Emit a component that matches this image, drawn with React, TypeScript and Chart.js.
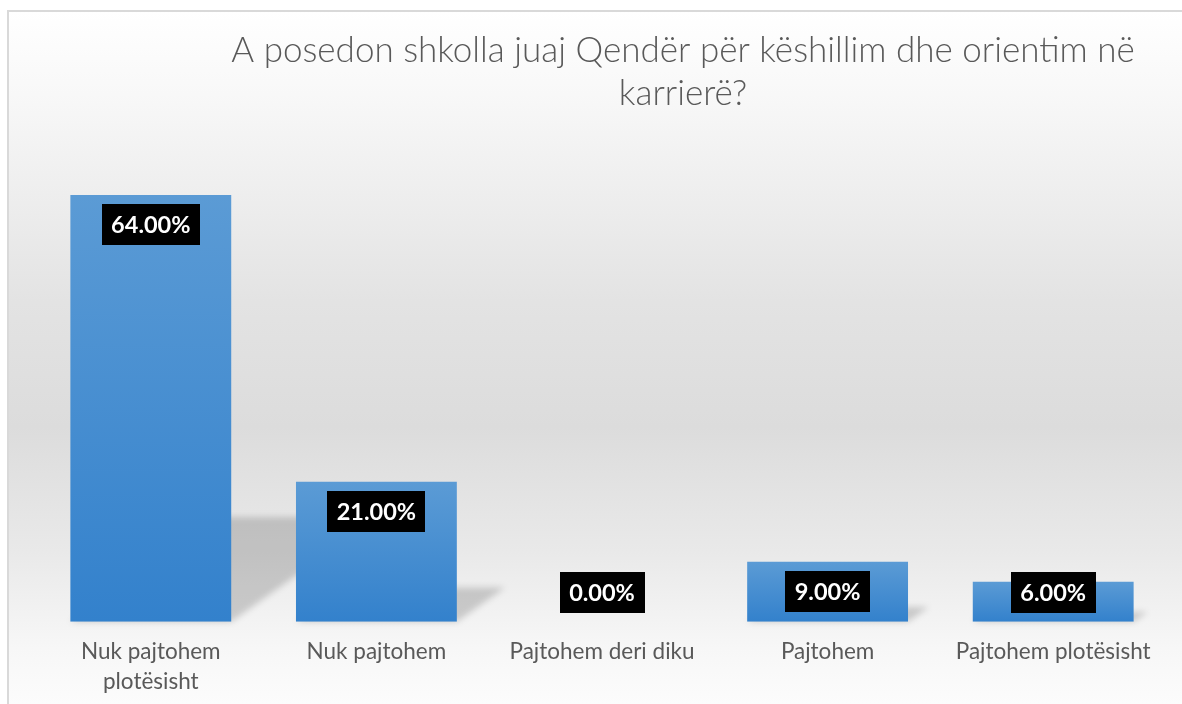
import React, { useEffect, useRef } from "react";
import { Chart, registerables } from "chart.js";

Chart.register(...registerables);

const TITLE_LINES = ["A posedon shkolla juaj Qendër për këshillim dhe orientim në", "karrierë?"];
const CATEGORIES: (string | string[])[] = [
  ["Nuk pajtohem", "plotësisht"],
  "Nuk pajtohem",
  "Pajtohem deri diku",
  "Pajtohem",
  "Pajtohem plotësisht",
];
const VALUES = [64, 21, 0, 9, 6];
const Y_MIN = 0;
const Y_MAX = 70;

const FONT = "Lato, 'Open Sans', sans-serif";

const backgroundPlugin = {
  id: "bg",
  beforeDraw(chart: any) {
    const { ctx, width, height } = chart;
    ctx.save();
    ctx.fillStyle = "#ffffff";
    ctx.fillRect(0, 0, width, height);
    const g = ctx.createLinearGradient(0, 11, 0, height);
    g.addColorStop(0, "#ffffff");
    g.addColorStop(0.12, "#f8f8f8");
    g.addColorStop(0.42, "#e3e3e3");
    g.addColorStop(0.6, "#dcdcdc");
    g.addColorStop(0.78, "#e9e9e9");
    g.addColorStop(0.92, "#f7f7f7");
    g.addColorStop(1, "#fcfcfc");
    ctx.fillStyle = g;
    ctx.fillRect(8, 12, width, height);
    ctx.strokeStyle = "#d9d9d9";
    ctx.lineWidth = 2;
    ctx.beginPath();
    ctx.moveTo(8, height + 5);
    ctx.lineTo(8, 11);
    ctx.lineTo(width + 5, 11);
    ctx.stroke();
    ctx.restore();
  },
};

const titlePlugin = {
  id: "customTitle",
  afterDraw(chart: any) {
    const { ctx } = chart;
    ctx.save();
    ctx.fillStyle = "#595959";
    ctx.font = `300 35px ${FONT}`;
    ctx.textAlign = "center";
    ctx.textBaseline = "alphabetic";
    TITLE_LINES.forEach((line, i) => {
      ctx.fillText(line, 683, 62 + i * 43);
    });
    ctx.restore();
  },
};

const shadowPlugin = {
  id: "barShadow",
  beforeDatasetsDraw(chart: any) {
    const { ctx } = chart;
    const meta = chart.getDatasetMeta(0);
    ctx.save();
    ctx.filter = "blur(3px)";
    ctx.fillStyle = "rgba(0,0,0,0.17)";
    meta.data.forEach((bar: any) => {
      const p = bar.getProps(["x", "y", "base", "width"], true);
      const h = p.base - p.y;
      if (h < 1) return;
      const sh = h * 0.245;
      const shift = sh * 1.4;
      const x0 = p.x - p.width / 2;
      const x1 = p.x + p.width / 2;
      ctx.beginPath();
      ctx.moveTo(x0, p.base);
      ctx.lineTo(x1, p.base);
      ctx.lineTo(x1 + shift, p.base - sh);
      ctx.lineTo(x0 + shift, p.base - sh);
      ctx.closePath();
      ctx.fill();
    });
    ctx.restore();
  },
};

const labelPlugin = {
  id: "boxLabels",
  afterDatasetsDraw(chart: any) {
    const { ctx } = chart;
    const meta = chart.getDatasetMeta(0);
    const ds = chart.data.datasets[0];
    ctx.save();
    ctx.font = `700 23.5px ${FONT}`;
    ctx.textAlign = "center";
    ctx.textBaseline = "middle";
    meta.data.forEach((bar: any, i: number) => {
      const p = bar.getProps(["x", "y", "base"], true);
      const text = Number(ds.data[i]).toFixed(2) + "%";
      const cy = Math.min(p.y + 29.5, p.base - 29.5);
      const tw = ctx.measureText(text).width;
      const bw = tw + 19;
      const bh = 41;
      ctx.fillStyle = "#000000";
      ctx.fillRect(Math.round(p.x - bw / 2), Math.round(cy - bh / 2), Math.round(bw), bh);
      ctx.fillStyle = "#ffffff";
      ctx.fillText(text, p.x, cy + 1);
    });
    ctx.restore();
  },
};

export default function App() {
  const canvasRef = useRef<HTMLCanvasElement | null>(null);

  useEffect(() => {
    const canvas = canvasRef.current;
    if (!canvas) return;
    const chart = new Chart(canvas, {
      type: "bar",
      data: {
        labels: CATEGORIES,
        datasets: [
          {
            data: VALUES,
            backgroundColor: (c: any) => {
              const ch = c.chart;
              if (!ch.chartArea || c.type !== "data") return "#5b9bd5";
              const ys = ch.scales.y;
              const top = ys.getPixelForValue(c.parsed.y);
              const base = ys.getPixelForValue(0);
              if (Math.abs(base - top) < 1) return "#5b9bd5";
              const g = ch.ctx.createLinearGradient(0, top, 0, base);
              g.addColorStop(0, "#5b9bd5");
              g.addColorStop(1, "#3381cc");
              return g;
            },
            borderWidth: 0,
            barPercentage: 0.713,
            categoryPercentage: 1,
          },
        ],
      },
      options: {
        animation: false,
        responsive: false,
        maintainAspectRatio: false,
        devicePixelRatio: 1,
        layout: { padding: { top: 155, left: 38, right: 16, bottom: -8 } },
        plugins: {
          legend: { display: false },
          title: { display: false },
          tooltip: { enabled: false },
        },
        scales: {
          x: {
            grid: { display: false, drawTicks: false },
            border: { display: false },
            ticks: {
              color: "#595959",
              font: { family: FONT, size: 22.5, lineHeight: 1.34 },
              padding: 15,
              maxRotation: 0,
              autoSkip: false,
            },
          },
          y: {
            display: false,
            min: Y_MIN,
            max: Y_MAX,
          },
        },
      },
      plugins: [backgroundPlugin, shadowPlugin, labelPlugin, titlePlugin],
    });
    return () => chart.destroy();
  }, []);

  return (
    <div style={{ position: "fixed", left: 0, top: 0, width: 1182, height: 704 }}>
      <canvas ref={canvasRef} width={1182} height={704} style={{ width: 1182, height: 704, display: "block" }} />
    </div>
  );
}
